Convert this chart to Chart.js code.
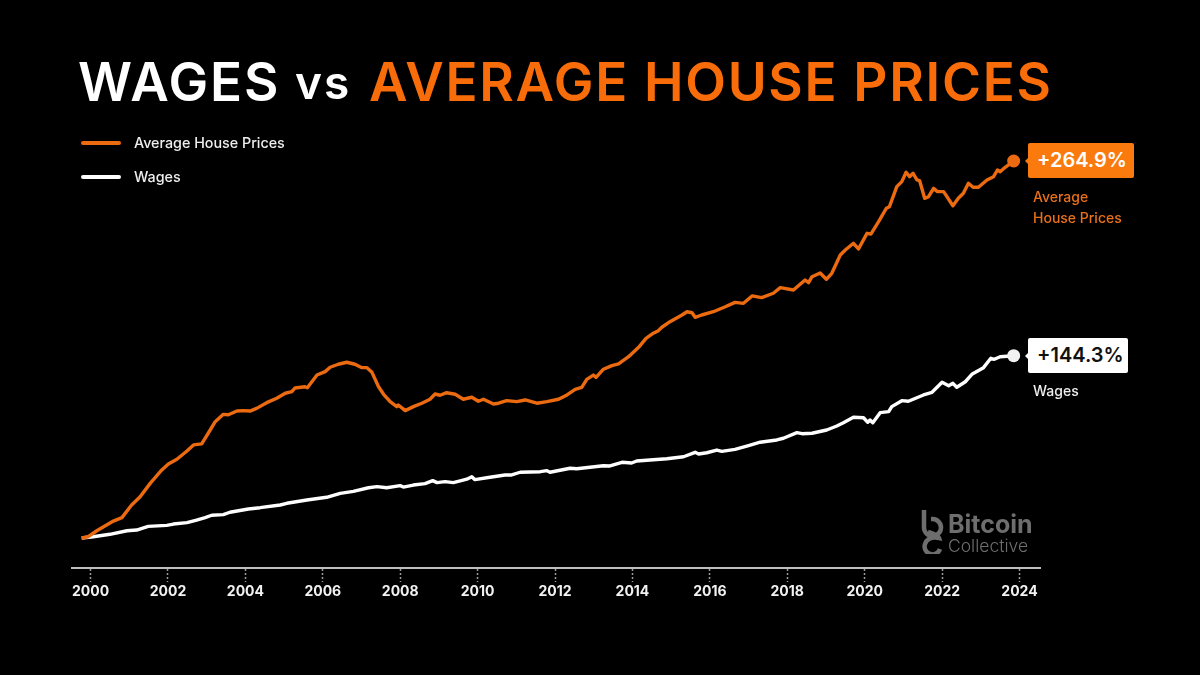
<!DOCTYPE html>
<html>
<head>
<meta charset="utf-8">
<script src="https://cdn.jsdelivr.net/npm/chart.js@4"></script>
<style>
  html, body { margin: 0; padding: 0; background: #000; }
  #wrap { position: relative; width: 1200px; height: 675px; overflow: hidden; background: #000; font-family: Inter, sans-serif; }
  #chart { position: absolute; left: 0; top: 0; }
  .abs { position: absolute; white-space: nowrap; }
  h1 { margin: 0; left: 78px; top: 51px; font-size: 53px; line-height: 63px; font-weight: 600; color: #fff; letter-spacing: 1.8px; }
  h1 .vs { position: absolute; left: 217px; font-size: 46px; letter-spacing: 2px; }
  h1 .or { position: absolute; left: 291px; color: #f96c0a; letter-spacing: 1.7px; }
  .lg-line { left: 81px; width: 40px; height: 4px; border-radius: 2px; }
  .lg-text { left: 134px; font-size: 14.3px; line-height: 18px; font-weight: 500; color: #eee; }
  .badge { left: 1028px; height: 35px; line-height: 35px; font-size: 20px; font-weight: 600; padding-left: 9px; border-radius: 2px; box-sizing: border-box; }
  .badge::before { content: ''; position: absolute; left: -3px; top: 15px; border: 3px solid transparent; border-left: 0; border-right-color: inherit; }
  .note { left: 1033px; font-size: 14px; line-height: 21px; font-weight: 500; }
  .logo1 { left: 948px; top: 511px; font-size: 25px; line-height: 26px; font-weight: 700; color: #6e6e6e; }
  .logo2 { left: 948px; top: 535px; font-size: 17.5px; line-height: 21px; font-weight: 300; color: #6e6e6e; }
</style>
</head>
<body>
<div id="wrap">
  <canvas id="chart" width="1200" height="675"></canvas>
  <h1 class="abs">WAGES <span class="vs">vs</span> <span class="or">AVERAGE HOUSE PRICES</span></h1>

  <div class="abs lg-line" style="top:141px;background:#ec6a10"></div>
  <div class="abs lg-text" style="top:134px">Average House Prices</div>
  <div class="abs lg-line" style="top:175px;background:#fff"></div>
  <div class="abs lg-text" style="top:168px">Wages</div>

  <div class="abs badge" style="top:143px;width:106px;background:#fa7a0e;border-color:#fa7a0e;color:#fff">+264.9%</div>
  <div class="abs note" style="top:186px;color:#e8701a">Average<br>House Prices</div>
  <div class="abs badge" style="top:338px;width:100px;background:#fff;border-color:#fff;color:#111">+144.3%</div>
  <div class="abs note" style="top:380px;color:#eee">Wages</div>

  <svg class="abs" style="left:920px;top:508px" width="24" height="46" fill="none" stroke="#6e6e6e" stroke-width="4.5">
    <path d="M4 2 V19 A8.5 8.5 0 1 0 12.5 11 H11"/>
    <path d="M8 24 Q18 27 19 30 Q8 28 5 36 A7.5 7.5 0 0 0 20 41"/>
  </svg>
  <div class="abs logo1">Bitcoin</div>
  <div class="abs logo2">Collective</div>
</div>

<script>
// x axis tick labels (every 2 years)
const tickYears = [2000, 2002, 2004, 2006, 2008, 2010, 2012, 2014, 2016, 2018, 2020, 2022, 2024];

// Average House Prices, growth in %
const houseYears = [1999.77, 1999.94, 2000.16, 2000.37, 2000.59, 2000.81, 2001.06, 2001.28, 2001.54, 2001.84,
  2002.01, 2002.23, 2002.49, 2002.66, 2002.87, 2003.04, 2003.22, 2003.43, 2003.56, 2003.78,
  2003.95, 2004.12, 2004.29, 2004.55, 2004.81, 2005.03, 2005.20, 2005.28, 2005.54, 2005.60,
  2005.85, 2006.06, 2006.19, 2006.40, 2006.62, 2006.83, 2007.01, 2007.14, 2007.27, 2007.44,
  2007.57, 2007.74, 2007.91, 2007.95, 2008.13, 2008.34, 2008.56, 2008.77, 2008.90, 2009.03,
  2009.20, 2009.42, 2009.63, 2009.85, 2010.02, 2010.15, 2010.41, 2010.54, 2010.75, 2011.01,
  2011.23, 2011.53, 2011.79, 2012.09, 2012.31, 2012.52, 2012.69, 2012.82, 2012.99, 2013.06,
  2013.25, 2013.47, 2013.64, 2013.90, 2014.16, 2014.35, 2014.54, 2014.67, 2014.76, 2014.97,
  2015.28, 2015.41, 2015.54, 2015.62, 2015.79, 2016.09, 2016.40, 2016.65, 2016.87, 2017.09,
  2017.34, 2017.64, 2017.82, 2018.16, 2018.46, 2018.55, 2018.64, 2018.85, 2019.01, 2019.15,
  2019.37, 2019.50, 2019.71, 2019.84, 2020.06, 2020.16, 2020.36, 2020.56, 2020.64, 2020.83,
  2020.96, 2021.07, 2021.16, 2021.25, 2021.35, 2021.42, 2021.55, 2021.65, 2021.78, 2021.88,
  2022.04, 2022.28, 2022.42, 2022.55, 2022.68, 2022.80, 2022.94, 2023.16, 2023.33, 2023.43,
  2023.50, 2023.63, 2023.85];
const housePct = [0, 0.9, 5.1, 8.4, 11.9, 14.3, 23.2, 29.0, 38.4, 47.8,
  52.0, 55.3, 61.1, 65.4, 66.1, 73.6, 81.7, 86.9, 86.6, 89.2,
  89.5, 89.2, 91.1, 95.1, 98.2, 101.7, 102.8, 105.4, 106.3, 105.6,
  114.5, 116.9, 120.0, 122.1, 123.5, 122.1, 119.7, 119.7, 116.4, 106.3,
  101.0, 95.8, 92.3, 93.5, 89.5, 92.3, 94.7, 97.5, 101.2, 100.3,
  102.1, 101.0, 97.5, 98.9, 96.1, 97.5, 94.2, 94.7, 96.5, 95.8,
  97.0, 94.7, 95.8, 97.5, 100.5, 104.5, 105.9, 111.5, 114.5, 112.9,
  118.6, 121.1, 122.3, 127.4, 134.0, 140.3, 143.9, 145.7, 148.1, 152.0,
  156.7, 159.0, 158.3, 155.1, 156.7, 159.0, 162.5, 165.6, 164.9, 170.1,
  168.9, 172.0, 175.9, 174.3, 181.3, 179.4, 183.6, 186.2, 181.8, 186.0,
  198.9, 202.4, 207.1, 203.1, 214.1, 213.6, 222.3, 231.7, 232.8, 246.9,
  250.4, 257.0, 253.9, 256.3, 251.6, 251.1, 238.7, 239.8, 245.7, 243.4,
  243.4, 233.5, 238.7, 242.2, 249.3, 246.5, 246.5, 251.6, 253.9, 258.6,
  257.4, 260.5, 264.9];

// Wages, same reading
const wageYears = [1999.77, 2000.07, 2000.50, 2000.94, 2001.19, 2001.49, 2001.97, 2002.14, 2002.49, 2002.74,
  2002.96, 2003.13, 2003.43, 2003.60, 2004.08, 2004.38, 2004.90, 2005.07, 2005.59, 2006.10,
  2006.45, 2006.79, 2007.18, 2007.40, 2007.65, 2008.00, 2008.08, 2008.34, 2008.64, 2008.84,
  2008.95, 2009.16, 2009.37, 2009.55, 2009.72, 2009.85, 2009.93, 2010.32, 2010.71, 2010.88,
  2011.10, 2011.62, 2011.79, 2011.87, 2012.39, 2012.56, 2013.25, 2013.42, 2013.73, 2013.98,
  2014.11, 2014.54, 2014.89, 2015.32, 2015.62, 2015.71, 2015.92, 2016.18, 2016.31, 2016.65,
  2017.00, 2017.30, 2017.73, 2017.90, 2018.25, 2018.38, 2018.64, 2019.02, 2019.28, 2019.45,
  2019.71, 2019.97, 2020.08, 2020.14, 2020.21, 2020.40, 2020.62, 2020.70, 2020.96, 2021.13,
  2021.52, 2021.74, 2022.00, 2022.17, 2022.28, 2022.38, 2022.60, 2022.77, 2023.07, 2023.26,
  2023.35, 2023.50, 2023.85];
const wagePct = [0, 0.9, 2.6, 5.1, 5.6, 8.2, 8.9, 9.8, 10.8, 12.6,
  14.3, 16.0, 16.4, 18.1, 20.4, 21.3, 23.2, 24.4, 26.7, 28.6,
  31.4, 32.8, 35.3, 36.1, 35.3, 36.8, 35.8, 37.2, 38.2, 40.3,
  38.9, 39.6, 38.9, 40.1, 41.3, 43.1, 41.0, 42.7, 44.3, 44.3,
  46.2, 46.6, 47.3, 46.2, 49.0, 48.7, 50.8, 50.6, 53.2, 52.7,
  54.1, 55.0, 55.7, 57.1, 60.2, 59.0, 59.9, 61.8, 60.9, 62.3,
  64.9, 67.3, 68.9, 70.1, 74.0, 73.3, 73.6, 75.9, 78.7, 81.0,
  84.8, 84.5, 81.3, 82.9, 81.0, 88.1, 88.8, 92.3, 96.5, 96.1,
  100.5, 102.4, 109.4, 107.0, 108.7, 105.9, 109.8, 115.0, 119.7, 126.3,
  125.6, 127.4, 128.1];

function toPoints(xs, ys) {
  return xs.map(function (x, i) { return { x: x, y: ys[i] }; });
}

function endDot(ctx) {
  return ctx.dataIndex === ctx.dataset.data.length - 1 ? 6.5 : 0;
}

new Chart(document.getElementById('chart'), {
  type: 'line',
  data: {
    datasets: [{
      label: 'Average House Prices',
      data: toPoints(houseYears, housePct),
      borderColor: '#ec6a10',
      backgroundColor: '#ec6a10',
      borderWidth: 3.4,
      borderJoinStyle: 'round',
      pointRadius: endDot,
      pointBorderWidth: 0,
      tension: 0
    }, {
      label: 'Wages',
      data: toPoints(wageYears, wagePct),
      borderColor: '#ffffff',
      backgroundColor: '#f2f2f2',
      borderWidth: 3.4,
      borderJoinStyle: 'round',
      pointRadius: endDot,
      pointBorderWidth: 0,
      tension: 0
    }]
  },
  options: {
    responsive: false,
    animation: false,
    layout: { padding: { left: 72, right: 160, top: 130, bottom: 67 } },
    plugins: { legend: { display: false }, tooltip: { enabled: false } },
    scales: {
      x: {
        type: 'linear',
        min: 1999.52,
        max: 2024.53,
        afterFit: function (axis) { axis.height = 40; },
        afterBuildTicks: function (axis) {
          axis.ticks = tickYears.map(function (v) { return { value: v }; });
        },
        border: { color: '#bdbdbd', width: 2 },
        grid: {
          drawOnChartArea: false,
          drawTicks: true,
          tickLength: 14,
          tickColor: '#9a9a9a',
          tickWidth: 1.5,
          tickBorderDash: [2, 2]
        },
        ticks: {
          color: '#f2f2f2',
          padding: 1,
          maxRotation: 0,
          autoSkip: false,
          font: { family: 'Inter', size: 14, weight: '700' },
          callback: function (v) { return String(v); }
        }
      },
      y: {
        display: false,
        min: -21.08,
        max: 286.7
      }
    }
  }
});
</script>
</body>
</html>
